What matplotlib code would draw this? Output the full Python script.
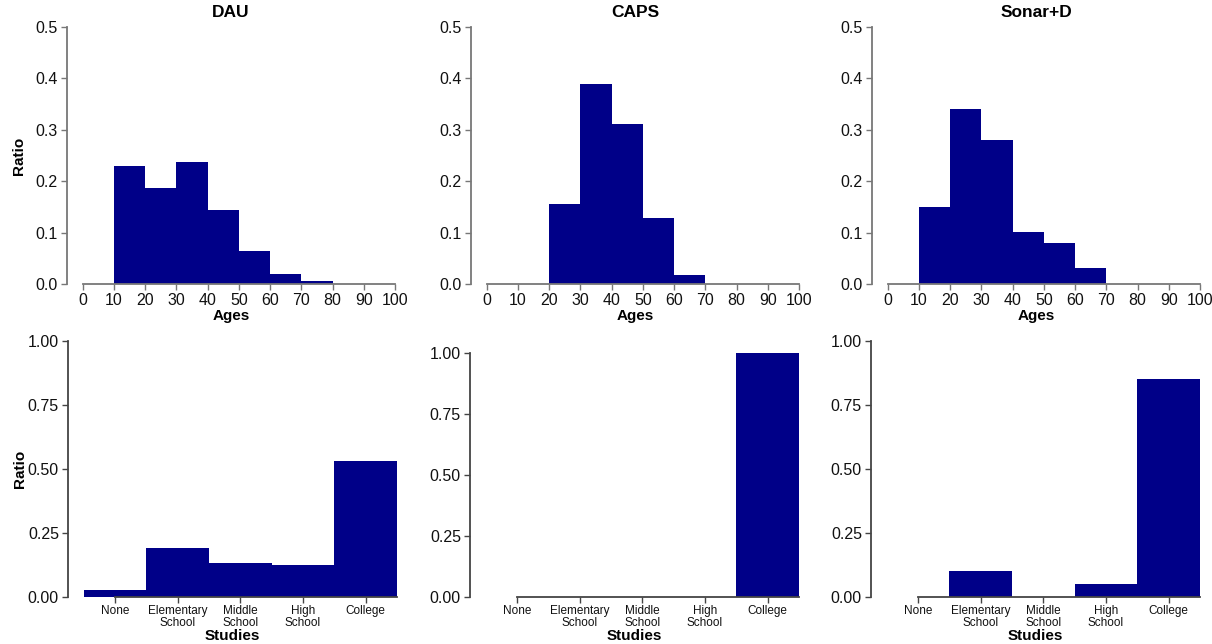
import numpy as np
import matplotlib
matplotlib.use("Agg")
import matplotlib.pyplot as plt

plt.rcParams['font.family'] = ['Liberation Sans', 'DejaVu Sans']

titles = ["DAU", "CAPS", "Sonar+D"]
age_bins = [0, 10, 20, 30, 40, 50, 60, 70, 80, 90, 100]
age_dau = [0.0, 0.230, 0.187, 0.238, 0.144, 0.064, 0.0195, 0.0058, 0.0, 0.0]
age_caps = [0.0, 0.0, 0.156, 0.390, 0.312, 0.129, 0.0175, 0.0, 0.0, 0.0]
age_sonar = [0.0, 0.150, 0.341, 0.281, 0.101, 0.080, 0.031, 0.0, 0.0, 0.0]

study_labels = ["None", "Elementary\nSchool", "Middle\nSchool", "High\nSchool", "College"]
study_dau = [0.027, 0.190, 0.1315, 0.124, 0.530]
study_caps = [0.0, 0.0, 0.0, 0.0, 1.0]
study_sonar = [0.0, 0.1016, 0.0, 0.0495, 0.850]

ages = [age_dau, age_caps, age_sonar]
studies = [study_dau, study_caps, study_sonar]

W, H = 1212, 644
fig = plt.figure(figsize=(W / 100, H / 100), dpi=100)

bar_color = "#000088"
top_spine = "#777777"
bot_spine = "#444444"

top_lefts = [67, 471, 872]
bot_lefts = [68, 470, 871]
width_px = 328

def style(ax, c):
    for s in ["top", "right"]:
        ax.spines[s].set_visible(False)
    for s in ["left", "bottom"]:
        ax.spines[s].set_color(c)
        ax.spines[s].set_linewidth(1.3)
    ax.tick_params(axis="both", colors=c, length=4, width=1.0,
                   labelcolor="#111111")

for i in range(3):
    # top row: age histograms
    ax = fig.add_axes([top_lefts[i] / W, 1 - 284 / H, width_px / W, 257 / H])
    edges = np.array(age_bins[:-1])
    ax.bar(edges, ages[i], width=10, align="edge", color=bar_color, linewidth=0)
    ax.set_xlim(-5, 100)
    ax.set_ylim(0, 0.5)
    ax.set_xticks(age_bins)
    ax.set_yticks([0.0, 0.1, 0.2, 0.3, 0.4, 0.5])
    ax.set_yticklabels(["0.0", "0.1", "0.2", "0.3", "0.4", "0.5"])
    style(ax, top_spine)
    ax.spines["bottom"].set_bounds(0, 100)
    ax.spines["left"].set_bounds(0, 0.5)
    ax.tick_params(axis="both", labelsize=11.5, pad=2.5)
    ax.set_xlabel("Ages", fontsize=11, fontweight="bold", labelpad=1)
    if i == 0:
        ax.set_ylabel("Ratio", fontsize=11, fontweight="bold")
        ax.yaxis.set_label_coords(-0.125, 0.5)
    ax.set_title(titles[i], fontsize=12.5, fontweight="bold", pad=7)

    # bottom row: studies
    ax2 = fig.add_axes([bot_lefts[i] / W, 1 - 597 / H, (width_px + 1) / W, 256 / H])
    x = np.arange(len(study_labels))
    ax2.bar(x, studies[i], width=1.0, color=bar_color, linewidth=0)
    ax2.set_xlim(-0.75, 4.5)
    ax2.set_ylim(0, 1.05 if i == 1 else 1.0)
    ax2.set_xticks(x)
    ax2.set_xticklabels(study_labels, fontsize=8.5, linespacing=0.95)
    ax2.set_yticks([0.0, 0.25, 0.5, 0.75, 1.0])
    ax2.set_yticklabels(["0.00", "0.25", "0.50", "0.75", "1.00"])
    style(ax2, bot_spine)
    ax2.tick_params(axis="y", labelsize=11.5, pad=2.5)
    ax2.tick_params(axis="x", labelsize=8.5, pad=2)
    ax2.spines["bottom"].set_bounds(0, 4.5)
    ax2.spines["left"].set_bounds(0, 1.0)
    ax2.set_xlabel("Studies", fontsize=11, fontweight="bold", labelpad=0)
    if i == 0:
        ax2.set_ylabel("Ratio", fontsize=11, fontweight="bold")
        ax2.yaxis.set_label_coords(-0.125, 0.5)

fig.savefig("out.png", dpi=100, facecolor="white")
